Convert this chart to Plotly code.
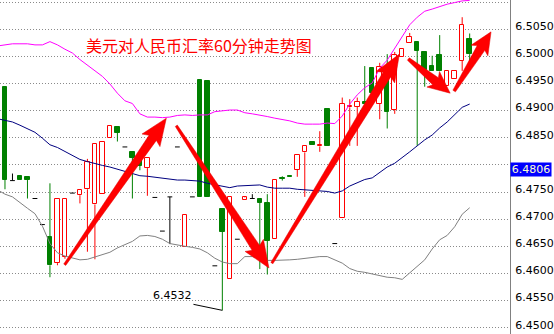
import plotly.graph_objects as go
import math

# ---------------- data ----------------
bars = list(range(63))
opens = [6.4944, 6.4771, 6.4779, 6.4778, 6.4738, 6.4690, 6.4668, 6.4619, 6.4631, 6.4748,
         6.4744, 6.4755, 6.4727, 6.4746, 6.4849, 6.4869, 6.4833, 6.4824, 6.4818, 6.4794,
         6.4740, 6.4678, 6.4741, 6.4833, 6.4648, 6.4741, 6.4956, 6.4954, 6.4614, 6.4719,
         6.4589, 6.4663, 6.4735, 6.4738, 6.4737, 6.4729, 6.4663, 6.4776, 6.4779, 6.4791,
         6.4823, 6.4843, 6.4834, 6.4903, 6.4655, 6.4702, 6.4906, 6.4907, 6.4915, 6.4978,
         6.4912, 6.4969, 6.4901, 6.4999, 6.5024, 6.5027, 6.5007, 6.4982, 6.5002, 6.4945,
         6.4958, 6.4992, 6.5032]
highs = [6.4944, 6.4784, 6.4779, 6.4778, 6.4738, 6.4690, 6.4766, 6.4737, 6.4737, 6.4748,
         6.4754, 6.4811, 6.4838, 6.4842, 6.4872, 6.4869, 6.4833, 6.4824, 6.4818, 6.4812,
         6.4740, 6.4678, 6.4741, 6.4833, 6.4708, 6.4741, 6.4956, 6.4954, 6.4614, 6.4719,
         6.4741, 6.4663, 6.4741, 6.4746, 6.4737, 6.4746, 6.4772, 6.4779, 6.4781, 6.4818,
         6.4835, 6.4843, 6.4862, 6.4903, 6.4655, 6.4924, 6.4921, 6.4924, 6.4982, 6.4980,
         6.4988, 6.5004, 6.5008, 6.5013, 6.5043, 6.5027, 6.5007, 6.5001, 6.5039, 6.4973,
         6.4973, 6.5072, 6.5042]
lows = [6.4755, 6.4771, 6.4772, 6.4738, 6.4738, 6.4690, 6.4593, 6.4615, 6.4627, 6.4748,
        6.4729, 6.4640, 6.4626, 6.4746, 6.4849, 6.4843, 6.4833, 6.4738, 6.4790, 6.4743,
        6.4740, 6.4678, 6.4654, 6.4833, 6.4648, 6.4741, 6.4741, 6.4741, 6.4614, 6.4532,
        6.4589, 6.4663, 6.4735, 6.4738, 6.4608, 6.4598, 6.4663, 6.4771, 6.4778, 6.4778,
        6.4741, 6.4837, 6.4824, 6.4835, 6.4655, 6.4702, 6.4835, 6.4835, 6.4913, 6.4932,
        6.4884, 6.4867, 6.4894, 6.4999, 6.5024, 6.4835, 6.4944, 6.4973, 6.4973, 6.4945,
        6.4958, 6.4973, 6.4991]
closes = [6.4773, 6.4771, 6.4772, 6.4772, 6.4738, 6.4690, 6.4615, 6.4737, 6.4737, 6.4748,
          6.4754, 6.4805, 6.4838, 6.4842, 6.4872, 6.4859, 6.4833, 6.4813, 6.4798, 6.4812,
          6.4740, 6.4678, 6.4741, 6.4833, 6.4708, 6.4741, 6.4741, 6.4741, 6.4614, 6.4677,
          6.4741, 6.4663, 6.4740, 6.4738, 6.4730, 6.4660, 6.4772, 6.4774, 6.4778, 6.4818,
          6.4835, 6.4837, 6.4836, 6.4835, 6.4655, 6.4913, 6.4908, 6.4916, 6.4913, 6.4932,
          6.4980, 6.4898, 6.5002, 6.5013, 6.5036, 6.5010, 6.4975, 6.4973, 6.4973, 6.4973,
          6.4973, 6.5058, 6.5004]

band_x = list(range(-1, 63))
band_upper = [6.5019, 6.5021, 6.5023, 6.5023, 6.5023, 6.5021, 6.5021, 6.5027, 6.5021, 6.5013,
              6.5006, 6.4994, 6.4984, 6.4973, 6.4963, 6.4949, 6.4932, 6.4918, 6.4913, 6.4894,
              6.4888, 6.4888, 6.4887, 6.4888, 6.4891, 6.4892, 6.4891, 6.4892, 6.4892, 6.4898,
              6.4900, 6.4901, 6.4901, 6.4896, 6.4894, 6.4892, 6.4889, 6.4886, 6.4884, 6.4881,
              6.4877, 6.4875, 6.4875, 6.4875, 6.4877, 6.4876, 6.4890, 6.4912, 6.4929, 6.4942,
              6.4951, 6.4978, 6.4993, 6.5015, 6.5037, 6.5058, 6.5072, 6.5083, 6.5087, 6.5092,
              6.5096, 6.5099, 6.5102, 6.5103]
band_mid = [6.4885, 6.4882, 6.4879, 6.4873, 6.4866, 6.4860, 6.4849, 6.4837, 6.4832, 6.4825,
            6.4818, 6.4810, 6.4806, 6.4802, 6.4799, 6.4796, 6.4792, 6.4788, 6.4783, 6.4780,
            6.4779, 6.4777, 6.4775, 6.4773, 6.4772, 6.4772, 6.4771, 6.4770, 6.4766, 6.4763,
            6.4760, 6.4758, 6.4761, 6.4762, 6.4763, 6.4763, 6.4759, 6.4757, 6.4757, 6.4757,
            6.4755, 6.4754, 6.4752, 6.4752, 6.4751, 6.4748, 6.4752, 6.4761, 6.4767, 6.4773,
            6.4776, 6.4786, 6.4796, 6.4803, 6.4813, 6.4824, 6.4835, 6.4846, 6.4855, 6.4868,
            6.4879, 6.4892, 6.4906, 6.4912]
band_lower = [6.4754, 6.4746, 6.4741, 6.4730, 6.4720, 6.4710, 6.4687, 6.4655, 6.4638, 6.4632,
              6.4628, 6.4625, 6.4626, 6.4630, 6.4635, 6.4639, 6.4647, 6.4653, 6.4659, 6.4669,
              6.4670, 6.4668, 6.4663, 6.4655, 6.4652, 6.4650, 6.4648, 6.4645, 6.4638, 6.4628,
              6.4621, 6.4618, 6.4618, 6.4631, 6.4631, 6.4628, 6.4624, 6.4624, 6.4624, 6.4625,
              6.4626, 6.4628, 6.4630, 6.4631, 6.4631, 6.4625, 6.4619, 6.4609, 6.4604, 6.4602,
              6.4599, 6.4596, 6.4593, 6.4592, 6.4589, 6.4601, 6.4613, 6.4625, 6.4645, 6.4662,
              6.4670, 6.4686, 6.4709, 6.4721]

tick_vals = [6.4500, 6.4550, 6.4600, 6.4650, 6.4700, 6.4750, 6.4800, 6.4850, 6.4900,
             6.4950, 6.5000, 6.5050, 6.5100]
# the 6.4800 label sits under the current-price box, so it is left blank
tick_text = ["6.4500", "6.4550", "6.4600", "6.4650", "6.4700", "6.4750", "", "6.4850",
             "6.4900", "6.4950", "6.5000", "6.5050", "6.5100"]

title_text = "美元对人民币汇率60分钟走势图"
current_price = 6.4806
low_label = "6.4532"
low_bar = 29

# arrows: (tail bar, tail price, tip bar, tip price, size)
arrows = [
    (7.97, 6.4616, 21.53, 6.4886, "big"),
    (22.86, 6.4872, 35.22, 6.4610, "big"),
    (35.61, 6.4619, 52.62, 6.5004, "big"),
    (53.82, 6.4995, 59.40, 6.4932, "small"),
    (59.93, 6.4936, 64.85, 6.5045, "small"),
]

# ---------------- layout geometry ----------------
W, H = 554, 334
PLOT_W, PLOT_H = 512, 334
X_RANGE = [-0.664, 67.38]
Y_RANGE = [6.44884, 6.51037]

def to_px(xv, yv):
    px = (xv - X_RANGE[0]) / (X_RANGE[1] - X_RANGE[0]) * PLOT_W
    py = (Y_RANGE[1] - yv) / (Y_RANGE[1] - Y_RANGE[0]) * PLOT_H
    return px, py

def to_data(px, py):
    xv = X_RANGE[0] + px / PLOT_W * (X_RANGE[1] - X_RANGE[0])
    yv = Y_RANGE[1] - py / PLOT_H * (Y_RANGE[1] - Y_RANGE[0])
    return xv, yv

RED = "#ff0000"
GREEN = "#008000"
BLACK = "#000000"

fig = go.Figure()

# candles
body_w = 0.6
doji_half = 0.32
up_x, up_base, up_h = [], [], []
dn_x, dn_base, dn_h = [], [], []
wick = {RED: ([], []), GREEN: ([], []), BLACK: ([], [])}
doji_x, doji_y = [], []
for i, o, h, l, c in zip(bars, opens, highs, lows, closes):
    if c > o:
        col = RED
        up_x.append(i); up_base.append(o); up_h.append(c - o)
    elif c < o:
        col = GREEN
        dn_x.append(i); dn_base.append(c); dn_h.append(o - c)
    else:
        col = BLACK
        doji_x += [i - doji_half, i + doji_half, None]
        doji_y += [o, o, None]
    top, bot = max(o, c), min(o, c)
    wx, wy = wick[col]
    if h > top:
        wx += [i, i, None]; wy += [top, h, None]
    if l < bot:
        wx += [i, i, None]; wy += [bot, l, None]

fig.add_trace(go.Bar(x=up_x, y=up_h, base=up_base, width=body_w,
                     marker=dict(color="white", line=dict(color=RED, width=1)),
                     hoverinfo="skip"))
fig.add_trace(go.Bar(x=dn_x, y=dn_h, base=dn_base, width=body_w,
                     marker=dict(color=GREEN, line=dict(color=GREEN, width=1)),
                     hoverinfo="skip"))
for col, (wx, wy) in wick.items():
    fig.add_trace(go.Scatter(x=wx, y=wy, mode="lines", line=dict(color=col, width=1),
                             hoverinfo="skip"))
fig.add_trace(go.Scatter(x=doji_x, y=doji_y, mode="lines", line=dict(color=BLACK, width=1),
                         hoverinfo="skip"))

# Bollinger bands
fig.add_trace(go.Scatter(x=band_x, y=band_upper, mode="lines",
                         line=dict(color="#ff00ff", width=1), hoverinfo="skip"))
fig.add_trace(go.Scatter(x=band_x, y=band_mid, mode="lines",
                         line=dict(color="#000080", width=1), hoverinfo="skip"))
fig.add_trace(go.Scatter(x=band_x, y=band_lower, mode="lines",
                         line=dict(color="#808080", width=1), hoverinfo="skip"))

# arrows as filled polygons
shapes = []
for tx, ty, hx, hy, size in arrows:
    x0, y0 = to_px(tx, ty)
    x1, y1 = to_px(hx, hy)
    L = math.hypot(x1 - x0, y1 - y0)
    dx, dy = (x1 - x0) / L, (y1 - y0) / L
    nx, ny = -dy, dx
    if size == "big":
        lh, wh, wt, wb = 24, 11, 1.2, 4.5
    else:
        lh, wh, wt, wb = 19, 10, 1.5, 4.5
    bx, by = x1 - dx * lh, y1 - dy * lh
    pts = [
        (x0 + nx * wt, y0 + ny * wt),
        (bx + nx * wb, by + ny * wb),
        (bx + nx * wh - dx * 3, by + ny * wh - dy * 3),
        (x1, y1),
        (bx - nx * wh - dx * 3, by - ny * wh - dy * 3),
        (bx - nx * wb, by - ny * wb),
        (x0 - nx * wt, y0 - ny * wt),
    ]
    dpts = [to_data(px, py) for px, py in pts]
    path = "M " + " L ".join(f"{a:.5f},{b:.6f}" for a, b in dpts) + " Z"
    shapes.append(dict(type="path", path=path, xref="x", yref="y",
                       fillcolor=RED, line=dict(color="#e00000", width=0.5),
                       layer="above"))

# leader line from the low label to the low point
lpx, lpy = to_px(low_bar, lows[low_bar])
sx, sy = to_data(lpx - 29, lpy - 6)
shapes.append(dict(type="line", xref="x", yref="y", x0=sx, y0=sy,
                   x1=low_bar, y1=lows[low_bar], line=dict(color=BLACK, width=1),
                   layer="above"))

tx_title, ty_title = to_data(84, 45)
annotations = [
    dict(text=title_text, xref="x", yref="y", x=tx_title, y=ty_title,
         showarrow=False, font=dict(family="Noto Sans CJK SC", size=16, color=RED),
         xanchor="left", yanchor="middle"),
    dict(text=low_label, xref="x", yref="y", x=low_bar, y=lows[low_bar],
         xshift=-50, yshift=15, showarrow=False,
         font=dict(family="DejaVu Sans", size=11, color=BLACK),
         xanchor="center", yanchor="middle"),
    dict(text=f"{current_price:.4f}", xref="paper", yref="y", x=1, y=current_price,
         xanchor="left", yanchor="top", showarrow=False, bgcolor="#0000ff",
         width=40, height=13, borderpad=0, align="center",
         font=dict(family="DejaVu Sans", size=11, color="#ffffcc")),
]

fig.update_layout(
    width=W, height=H, autosize=False,
    margin=dict(l=0, r=W - PLOT_W, t=0, b=0, pad=0),
    paper_bgcolor="white", plot_bgcolor="white",
    showlegend=False, barmode="overlay", bargap=0,
    shapes=shapes, annotations=annotations,
    xaxis=dict(range=X_RANGE, visible=False, showgrid=False, zeroline=False),
    yaxis=dict(range=Y_RANGE, side="right", tickvals=tick_vals, ticktext=tick_text,
               showgrid=True, gridcolor="#8a8a8a", gridwidth=1, griddash="1px,2px",
               zeroline=False, showline=True, linecolor="#808080", linewidth=1,
               ticks="", ticklabelshift=-3, ticklabelstandoff=2,
               tickfont=dict(family="DejaVu Sans", size=11, color=BLACK)),
)

fig.write_html("out.html", config={"displayModeBar": False})
